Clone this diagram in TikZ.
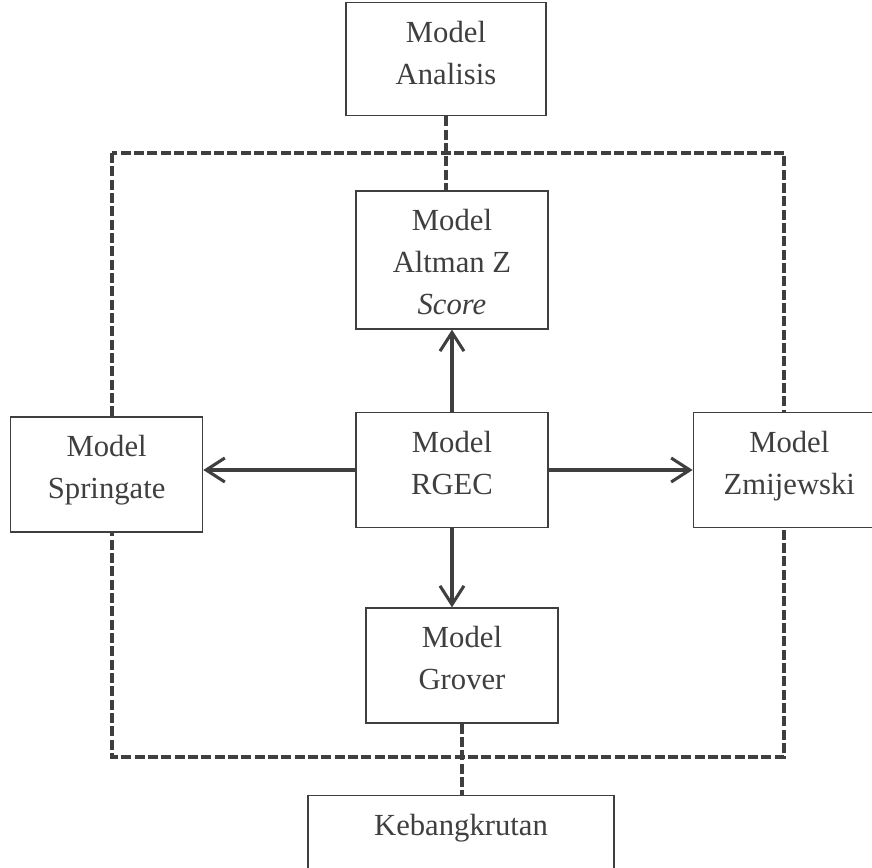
\documentclass[tikz,border=0pt]{standalone}
\usepackage{fontspec}
\setmainfont{Liberation Serif}
\usetikzlibrary{positioning,arrows.meta,backgrounds}
\definecolor{ink}{HTML}{3F3F3F}
\newcommand{\boxtext}[2]{\parbox[c][#1][t]{140pt}{\centering #2}}

\begin{document}
\begin{tikzpicture}[
    node distance=60pt,
    font=\fontsize{23}{31.5}\selectfont,
    modelbox/.style={rectangle, draw=ink, line width=1pt, fill=white, text=ink, minimum width=144pt, inner xsep=0pt, inner ysep=14pt},
    arrow/.style={-{Straight Barb[length=14pt, width=18pt]}, line width=2.3pt, draw=ink},
    link/.style={draw=ink, line width=2.3pt, dash pattern=on 7.5pt off 2.5pt}
]
\useasboundingbox (-339pt,-298.5pt) rectangle (315pt,352.5pt);

\node[modelbox] (rgec) {\boxtext{58.5pt}{Model\\RGEC}};
\node[modelbox, above=61.5pt of rgec] (altman) {\boxtext{75.5pt}{Model\\Altman Z\\\textit{Score}}};
\node[modelbox, above=55.5pt of altman, xshift=-4.5pt, minimum width=150pt] (analisis) {\boxtext{57pt}{Model\\Analisis}};
\node[modelbox, left=114pt of rgec, yshift=-3.4pt] (springate) {\boxtext{58.25pt}{Model\\Springate}};
\node[modelbox, right=108pt of rgec] (zmijewski) {\boxtext{58.25pt}{Model\\Zmijewski}};
\node[modelbox, below=59.25pt of rgec, xshift=7.5pt] (grover) {\boxtext{58.25pt}{Model\\Grover}};
\node[modelbox, below=53.25pt of grover, xshift=-0.75pt, minimum width=229.5pt] (bangkrut) {\boxtext{58.5pt}{Kebangkrutan}};

% dashed frame round the models
\coordinate (frameNW) at (-255pt,237.75pt);
\coordinate (frameSE) at (249pt,-215.25pt);
\begin{scope}[on background layer]
\draw[link] (frameNW) rectangle (frameSE);
\end{scope}

\draw[link] (analisis.south) -- (analisis.south |- altman.north);
\draw[link] (grover.south) -- (grover.south |- bangkrut.north);

\draw[arrow] (rgec.north) -- (altman.south);
\draw[arrow] (rgec.west) -- (rgec.west -| springate.east);
\draw[arrow] (rgec.east) -- (zmijewski.west);
\draw[arrow] (rgec.south) -- (rgec.south |- grover.north);

\end{tikzpicture}
\end{document}
